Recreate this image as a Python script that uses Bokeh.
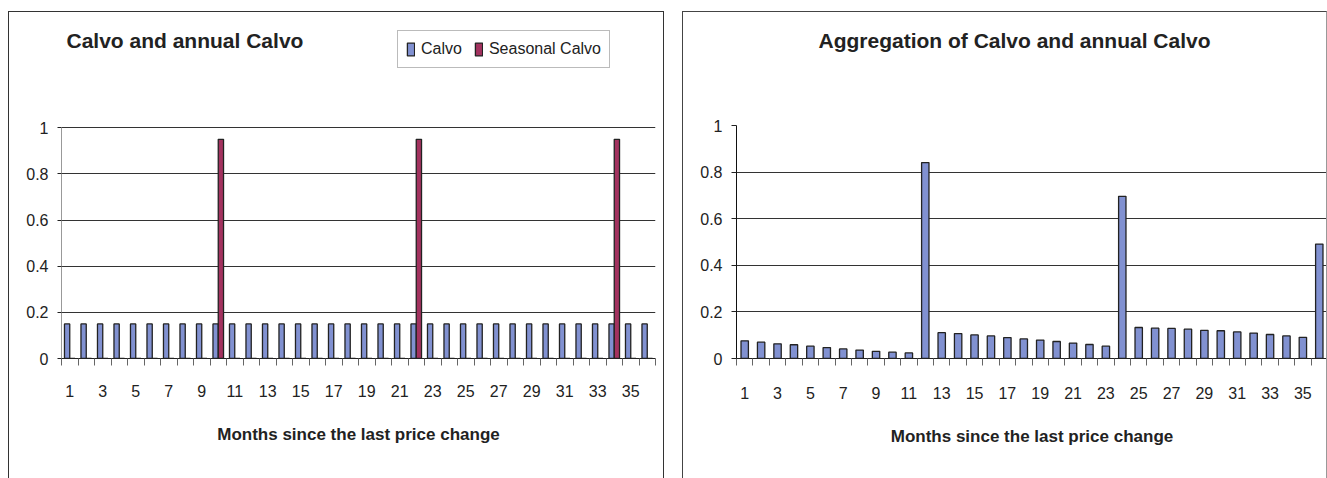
from bokeh.plotting import figure
from bokeh.models import (FixedTicker, Label, Legend, LegendItem, Spacer,
                          ColumnDataSource, Range1d, NumeralTickFormatter)
from bokeh.transform import dodge
from bokeh.layouts import row
from bokeh.embed import file_html
from bokeh.resources import INLINE

# ---------------- data ----------------
months = list(range(1, 37))
calvo = [0.15] * 36
seasonal_calvo = [0, 0, 0, 0, 0, 0, 0, 0, 0, 0.95, 0, 0,
                  0, 0, 0, 0, 0, 0, 0, 0, 0, 0.95, 0, 0,
                  0, 0, 0, 0, 0, 0, 0, 0, 0, 0.95, 0, 0]
aggregate = [0.076, 0.070, 0.063, 0.059, 0.053, 0.047, 0.041, 0.036, 0.031, 0.027, 0.024, 0.841,
             0.111, 0.107, 0.101, 0.097, 0.090, 0.084, 0.079, 0.073, 0.066, 0.060, 0.053, 0.696,
             0.133, 0.130, 0.129, 0.126, 0.121, 0.119, 0.114, 0.109, 0.103, 0.097, 0.091, 0.491]
x_tick_labels = list(range(1, 36, 2))
y_ticks = [0, 0.2, 0.4, 0.6, 0.8, 1]

title_left = "Calvo and annual Calvo"
title_right = "Aggregation of Calvo and annual Calvo"
x_title = "Months since the last price change"
series_names = ["Calvo", "Seasonal Calvo"]

BLUE = "#8191d1"
RED = "#a3325f"
EDGE = "#222222"
FONT = "Liberation Sans"
TXT = "#222222"


def base_figure(width, height, y_top, mb_left, mb_right, mb_bottom, margin, border_css):
    p = figure(width=width, height=height, output_backend="svg", toolbar_location=None,
               x_range=Range1d(0.5, 36.5), y_range=Range1d(0, y_top),
               min_border_left=mb_left, min_border_right=mb_right,
               min_border_top=0, min_border_bottom=mb_bottom,
               margin=margin, styles=border_css)
    p.outline_line_color = None
    p.background_fill_color = "white"
    p.border_fill_color = "white"
    p.xgrid.grid_line_color = None
    p.ygrid.grid_line_color = "#333333"
    p.ygrid.grid_line_width = 1

    xa = p.xaxis[0]
    xa.ticker = FixedTicker(ticks=x_tick_labels, minor_ticks=[m - 0.5 for m in months + [37]])
    xa.formatter = NumeralTickFormatter(format="0")
    xa.major_tick_out = 0
    xa.major_tick_in = 0
    xa.minor_tick_out = 7
    xa.minor_tick_in = 0
    xa.minor_tick_line_color = "#666666"
    xa.axis_line_color = "#222222"
    xa.major_label_text_font = FONT
    xa.major_label_text_font_size = "16px"
    xa.major_label_text_color = TXT
    xa.major_label_standoff = 19
    xa.axis_label = x_title
    xa.axis_label_text_font = FONT
    xa.axis_label_text_font_size = "17px"
    xa.axis_label_text_font_style = "bold"
    xa.axis_label_text_color = TXT
    xa.axis_label_standoff = 25

    ya = p.yaxis[0]
    ya.ticker = FixedTicker(ticks=y_ticks)
    ya.bounds = (0, 1)
    ya.formatter = NumeralTickFormatter(format="0.[0]")
    ya.major_tick_out = 4
    ya.major_tick_in = 0
    ya.minor_tick_out = 0
    ya.minor_tick_in = 0
    ya.major_tick_line_color = "#222222"
    ya.major_label_text_font = FONT
    ya.major_label_text_font_size = "16px"
    ya.major_label_text_color = TXT
    ya.major_label_standoff = 9
    return p


border_l = {"border-left": "1px solid #333", "border-top": "1px solid #333",
            "border-right": "1px solid #333", "box-sizing": "border-box"}
border_r = {"border-left": "1px solid #444", "border-top": "1px solid #444",
            "border-right": "1px solid #999", "box-sizing": "border-box"}

# ---------------- left chart ----------------
src_l = ColumnDataSource(dict(month=months, calvo=calvo, seasonal=seasonal_calvo))
p1 = base_figure(656, 467, 1.5, 52, 10, 121, (11, 0, 0, 8), border_l)
p1.ygrid.ticker = FixedTicker(ticks=[0.2, 0.4, 0.6, 0.8, 1])
p1.yaxis[0].axis_line_color = "#999999"

r_c = p1.vbar(x=dodge("month", -0.16, range=p1.x_range), top="calvo", width=0.32,
              source=src_l, fill_color=BLUE, line_color=EDGE, line_width=1.3)
r_s = p1.vbar(x=dodge("month", 0.16, range=p1.x_range), top="seasonal", width=0.32,
              source=src_l, fill_color=RED, line_color=EDGE, line_width=1.3)

legend = Legend(items=[LegendItem(label=series_names[0], renderers=[r_c]),
                       LegendItem(label=series_names[1], renderers=[r_s])],
                location=(336, 290), orientation="horizontal",
                label_text_font=FONT, label_text_font_size="16px", label_text_color=TXT,
                glyph_width=9, glyph_height=16, label_height=20, label_standoff=6,
                spacing=12, padding=8, margin=0,
                border_line_color="#777777", border_line_width=1,
                background_fill_color="white", background_fill_alpha=1)
p1.add_layout(legend, "center")

p1.add_layout(Label(x=5, y=318.5, x_units="screen", y_units="screen", text=title_left,
                    text_font=FONT, text_font_size="21px", text_font_style="bold",
                    text_color=TXT, text_align="left", text_baseline="middle"))

# ---------------- right chart ----------------
src_r = ColumnDataSource(dict(month=months, agg=aggregate))
p2 = base_figure(645, 467, 1.485, 53, 1, 117, (11, 0, 0, 0), border_r)
p2.ygrid.ticker = FixedTicker(ticks=[0.2, 0.4, 0.6, 0.8])
p2.yaxis[0].axis_line_color = "#111111"
p2.yaxis[0].major_tick_out = 5
p2.xaxis[0].major_label_standoff = 21

p2.vbar(x="month", top="agg", width=0.45, source=src_r,
        fill_color=BLUE, line_color=EDGE, line_width=1.3)

p2.add_layout(Label(x=82, y=318, x_units="screen", y_units="screen", text=title_right,
                    text_font=FONT, text_font_size="21px", text_font_style="bold",
                    text_color=TXT, text_align="left", text_baseline="middle"))

layout = row(p1, Spacer(width=18, height=10), p2)

open("out.html", "w").write(file_html(layout, INLINE))
